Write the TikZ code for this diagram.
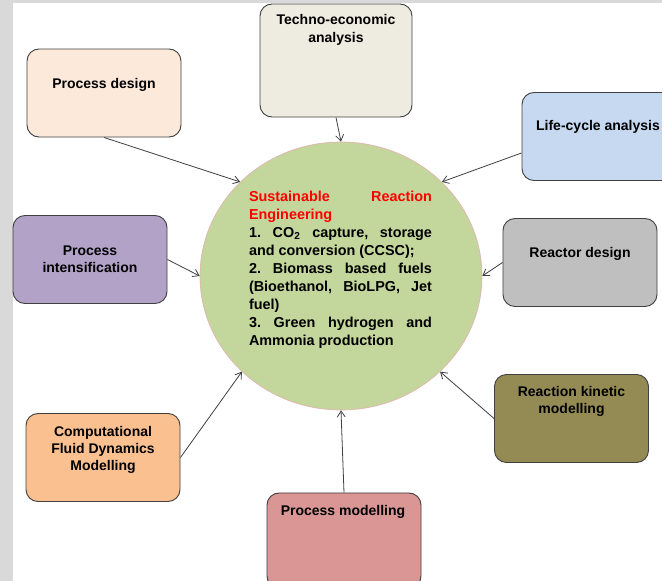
\documentclass[tikz,border=0pt]{standalone}
\usepackage{fontspec}
\setmainfont{Liberation Sans}
\usetikzlibrary{arrows.meta, shapes.geometric}
\definecolor{hubgreen} {RGB}{195, 214, 155}
\definecolor{hubedge}  {RGB}{226, 180, 176}
\definecolor{tecfill}  {RGB}{238, 236, 225}
\definecolor{desfill}  {RGB}{253, 233, 217}
\definecolor{lcafill}  {RGB}{198, 217, 241}
\definecolor{intfill}  {RGB}{179, 162, 199}
\definecolor{reafill}  {RGB}{191, 191, 191}
\definecolor{kinfill}  {RGB}{148, 138,  84}
\definecolor{cfdfill}  {RGB}{250, 192, 144}
\definecolor{modfill}  {RGB}{217, 150, 148}
\definecolor{edgegray} {RGB}{ 64,  64,  64}
\definecolor{framegray}{RGB}{217, 217, 217}

\tikzset{
  topic/.style={draw=edgegray, line width=0.7pt, rounded corners=9pt,
    minimum width=115.5pt, minimum height=66pt, inner sep=0pt},
  topiclabel/.style={font=\fontsize{10.5}{13}\selectfont\bfseries,
    align=center, inner sep=0pt},
  feed/.style={edgegray, line width=0.6pt,
    -{Straight Barb[length=4.5pt, width=6pt]}},
}

\begin{document}
\frenchspacing
\begin{tikzpicture}[x=0.75pt, y=-0.75pt]
  % Frame
  \clip (0,0) rectangle (662,581);
  \fill[white] (0,0) rectangle (662,581);
  \fill[framegray] (0,0) rectangle (662,3.3);
  \fill[framegray] (0,0) rectangle (12.5,581);

  % Central topic
  \node[ellipse, draw=hubedge, line width=0.5pt, fill=hubgreen,
    minimum width=211.5pt, minimum height=201pt, inner sep=0pt] (hub) at (341,276) {};
  \node[text width=137.25pt, align=justify, inner sep=0pt,
    font=\fontsize{10.8}{13.5}\selectfont\bfseries] (hubtext) at (340.5,270)
    {{\color{red}Sustainable Reaction\linebreak Engineering\par}
     1. CO\textsubscript{2} capture, storage\linebreak and conversion (CCSC);\par
     2. Biomass based fuels\linebreak (Bioethanol, BioLPG, Jet\linebreak fuel)\par
     3. Green hydrogen and\linebreak Ammonia production};

  % Surrounding topics
  \node[topic, fill=tecfill, minimum width=114pt, minimum height=84.75pt] (tec) at (336,60.5) {};
  \node[topiclabel] (teclabel) at (336,30) {Techno-economic\\analysis};
  \node[topic, fill=desfill] (des) at (104,93) {};
  \node[topiclabel] (deslabel) at (104,85) {Process design};
  \node[topic, fill=lcafill] (lca) at (599,136.5) {};
  \node[topiclabel] (lcalabel) at (598,127) {Life-cycle analysis};
  \node[topic, fill=intfill] (int) at (90,259.5) {};
  \node[topiclabel] (intlabel) at (90,259.5) {Process\\intensification};
  \node[topic, fill=reafill] (rea) at (580,262.5) {};
  \node[topiclabel] (realabel) at (580,254) {Reactor design};
  \node[topic, fill=kinfill] (kin) at (571.5,418.5) {};
  \node[topiclabel] (kinlabel) at (571.5,401.5) {Reaction kinetic\\modelling};
  \node[topic, fill=cfdfill] (cfd) at (103,457.5) {};
  \node[topiclabel] (cfdlabel) at (103,450) {Computational\\Fluid Dynamics\\Modelling};
  \node[topic, fill=modfill, minimum height=71.25pt] (mod) at (344,540.5) {};
  \node[topiclabel] (modlabel) at (343,512) {Process modelling};

  % Connectors
  \draw[feed] (tec.south) -- (hub.90);
  \draw[feed] (des.south) -- (hub.137);
  \draw[feed] (lca.192) -- (hub.43);
  \draw[feed] (int.east) -- (hub.180);
  \draw[feed] (rea.west) -- (hub.0);
  \draw[feed] (kin.west) -- (hub.-44);
  \draw[feed] (cfd.east) -- (hub.224);
  \draw[feed] (mod.north) -- (hub.270);
\end{tikzpicture}
\end{document}
